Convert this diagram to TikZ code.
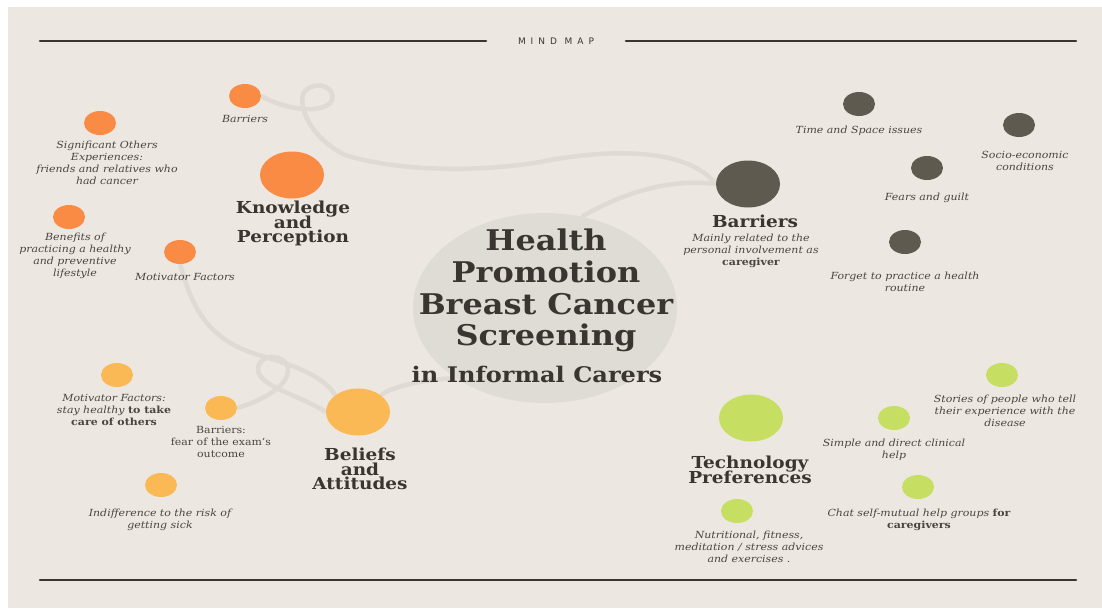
\documentclass[tikz,border=0pt]{standalone}
\usepackage{fontspec}
\setmainfont{DejaVu Serif}[FakeStretch=1.12]
\newfontfamily\mapfont{DejaVu Sans}[LetterSpace=55]
\usetikzlibrary{shapes.geometric,backgrounds}

\definecolor{paper}{HTML}{ECE8E1}
\definecolor{hubgray}{HTML}{DFDBD5}
\definecolor{swirlgray}{HTML}{DFDAD3}
\definecolor{inkdark}{HTML}{3A3531}
\definecolor{notegray}{HTML}{4A4540}
\definecolor{korange}{HTML}{F98B45}
\definecolor{bdark}{HTML}{5F5A50}
\definecolor{ayellow}{HTML}{FBB955}
\definecolor{tgreen}{HTML}{C6DE62}

\tikzset{
  dot/.style={ellipse,minimum width=32pt,minimum height=24pt,inner sep=0pt},
  bigdot/.style={ellipse,minimum width=64pt,minimum height=47pt,inner sep=0pt},
  note/.style={anchor=north,align=center,inner sep=0pt,text=notegray,
    font=\fontsize{9.8}{12}\selectfont\itshape},
  head/.style={anchor=north,align=center,inner sep=0pt,text=inkdark,
    font=\fontsize{16.5}{14.5}\selectfont\bfseries},
  swirl/.style={draw=swirlgray,line width=4.5pt},
  rule/.style={draw=inkdark,line width=2.6pt}
}
\lineskiplimit=-20pt

\begin{document}
\begin{tikzpicture}[x=1pt,y=-1pt,line cap=round,line join=round]
\useasboundingbox (0,0) rectangle (1102,608);
\begin{scope}[on background layer]
  \fill[white] (0,0) rectangle (1102,608);
  \fill[paper] (8,7) rectangle (1102,608);
\end{scope}

% title rules
\node[font=\mapfont\fontsize{9}{10}\selectfont,text=inkdark] (maptitle) at (556,41) {MIND MAP};
\draw[rule] (40,41) -- (486,41);
\draw[rule] (626,41) -- (1076,41);
\draw[rule] (40,580) -- (1076,580);

% centre
\node[ellipse,minimum width=264pt,minimum height=190pt,fill=hubgray] (hub) at (545,308) {};
\node[anchor=north,align=center,inner sep=0pt,text=inkdark,
  font=\fontsize{28.5}{31.7}\selectfont\bfseries] (hubtitle) at (546,229)
  {Health\\Promotion\\Breast Cancer\\Screening};
\node[anchor=north,inner sep=0pt,text=inkdark,font=\fontsize{21.5}{24}\selectfont\bfseries]
  (hubsub) at (537,366) {in Informal Carers};

% knowledge and perception
\node[bigdot,fill=korange] (kbig) at (292,175) {};
\node[dot,fill=korange] (kbar) at (245,96) {};
\node[dot,fill=korange] (ksig) at (100,123) {};
\node[dot,fill=korange] (kben) at (69,217) {};
\node[dot,fill=korange] (kmot) at (180,252) {};
\node[head] (kbig-t) at (293,201) {Knowledge\\and\\Perception};
\node[note] (kbar-t) at (245,115) {Barriers};
\node[note] (ksig-t) at (107,141) {Significant Others\\Experiences:\\friends and relatives who\\had cancer};
\node[note] (kben-t) at (75,233) {Benefits of\\practicing a healthy\\and preventive\\lifestyle};
\node[note] (kmot-t) at (185,273) {Motivator Factors};

% barriers
\node[bigdot,fill=bdark] (bbig) at (748,184) {};
\node[dot,fill=bdark] (btime) at (859,104) {};
\node[dot,fill=bdark] (bsocio) at (1019,125) {};
\node[dot,fill=bdark] (bfear) at (927,168) {};
\node[dot,fill=bdark] (bforget) at (905,242) {};
\node[head] (bbig-t) at (755,215) {Barriers};
\node[note] (bbig-s) at (751,234) {Mainly related to the\\personal involvement as\\\upshape\bfseries caregiver};
\node[note] (btime-t) at (859,126) {Time and Space issues};
\node[note] (bsocio-t) at (1025,151) {Socio-economic\\conditions};
\node[note] (bfear-t) at (927,193) {Fears and guilt};
\node[note] (bforget-t) at (905,272) {Forget to practice a health\\routine};

% beliefs and attitudes
\node[bigdot,fill=ayellow] (abig) at (358,412) {};
\node[dot,fill=ayellow] (amot) at (117,375) {};
\node[dot,fill=ayellow] (abar) at (221,408) {};
\node[dot,fill=ayellow] (aind) at (161,485) {};
\node[head] (abig-t) at (360,448) {Beliefs\\and\\Attitudes};
\node[note] (amot-t) at (114,394) {Motivator Factors:\\stay healthy {\upshape\bfseries to take}\\\upshape\bfseries care of others};
\node[note,font=\fontsize{9.8}{12}\selectfont\upshape] (abar-t) at (221,426) {Barriers:\\fear of the exam's\\outcome};
\node[note] (aind-t) at (160,509) {Indifference to the risk of\\getting sick};

% technology preferences
\node[bigdot,fill=tgreen] (tbig) at (751,418) {};
\node[dot,fill=tgreen] (tstory) at (1002,375) {};
\node[dot,fill=tgreen] (tsimple) at (894,418) {};
\node[dot,fill=tgreen] (tchat) at (918,487) {};
\node[dot,fill=tgreen] (tnutri) at (737,511) {};
\node[head] (tbig-t) at (750,456) {Technology\\Preferences};
\node[note] (tstory-t) at (1005,395) {Stories of people who tell\\their experience with the\\disease};
\node[note] (tsimple-t) at (894,439) {Simple and direct clinical\\help};
\node[note] (tchat-t) at (919,509) {Chat self-mutual help groups {\upshape\bfseries for}\\\upshape\bfseries caregivers};
\node[note] (tnutri-t) at (749,531) {Nutritional, fitness,\\meditation / stress advices\\and exercises .};

% swirls behind the dots
\begin{scope}[on background layer]
  \draw[swirl] (kbar.east) .. controls (285,110) and (325,115) .. (332,100)
    .. controls (336,88) and (318,80) .. (306,90)
    .. controls (296,98) and (305,135) .. (345,155)
    .. controls (400,172) and (480,172) .. (540,162)
    .. controls (600,150) and (685,145) .. (bbig.west);
  \draw[swirl] (hub.68) .. controls (620,195) and (665,178) .. (bbig.west);
  \draw[swirl] (kmot.south) .. controls (192,305) and (205,340) .. (262,356)
    .. controls (300,367) and (325,378) .. (abig.north west);
  \draw[swirl] (abar.east) .. controls (258,402) and (288,388) .. (288,370)
    .. controls (288,354) and (260,352) .. (258,368)
    .. controls (256,386) and (300,395) .. (abig.west);
  \draw[swirl] (abig.north east) .. controls (395,385) and (425,380) .. (hub.218);
\end{scope}
\end{tikzpicture}
\end{document}
